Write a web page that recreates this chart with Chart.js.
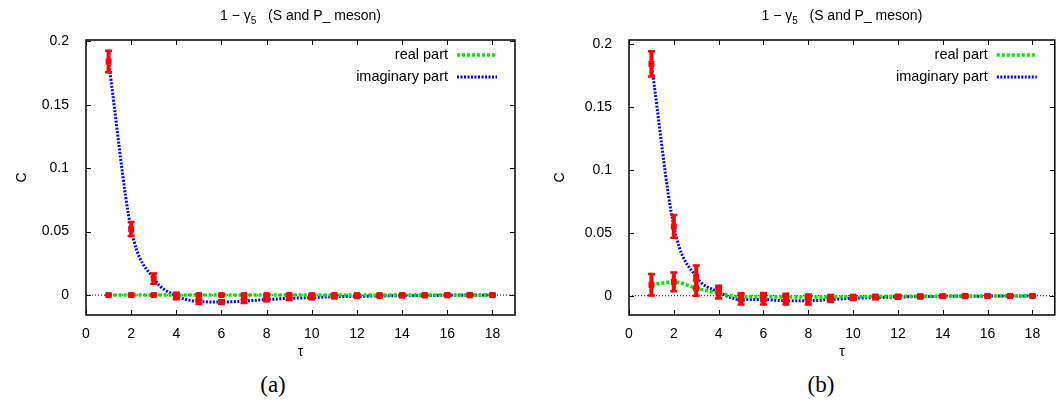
<!DOCTYPE html>
<html>
<head>
<meta charset="utf-8">
<script src="https://cdn.jsdelivr.net/npm/chart.js@4.4.0/dist/chart.umd.min.js"></script>
<style>
body { margin:0; background:#fff; width:1059px; height:405px; overflow:hidden; position:relative; }
.panel { position:absolute; top:0; height:365px; }
#pa { left:0; width:530px; }
#pb { left:530px; width:529px; }
.cap { position:absolute; top:372px; font-family:"Liberation Serif", "DejaVu Serif", serif; font-size:23px; transform:translateX(-50%); }
</style>
</head>
<body>
<div class="panel" id="pa"><canvas id="ca"></canvas></div>
<div class="panel" id="pb"><canvas id="cb"></canvas></div>
<div class="cap" style="left:273px">(a)</div>
<div class="cap" style="left:821px">(b)</div>
<script>
// time slices
var tValues = [1, 2, 3, 4, 5, 6, 7, 8, 9, 10, 11, 12, 13, 14, 15, 16, 17, 18];
var xTicks = [0, 2, 4, 6, 8, 10, 12, 14, 16, 18];
var yTicks = [0, 0.05, 0.1, 0.15, 0.2];

// panel (a)
var realA    = [0, 0, 0, 0, 0, 0, 0, 0, 0, 0, 0, 0, 0, 0, 0, 0, 0, 0];
var realErrA = [0.0004, 0.0004, 0.0004, 0.0004, 0.0004, 0.0004, 0.0004, 0.0004, 0.0004, 0.0004, 0.0003, 0.0003, 0.0003, 0.0003, 0.0003, 0.0003, 0.0003, 0.0003];
var imagA    = [0.184, 0.052, 0.013, -0.0007, -0.005, -0.0055, -0.0047, -0.0035, -0.0026, -0.002, -0.0013, -0.001, -0.0007, -0.0005, -0.0003, -0.0002, -0.0001, 0];
var imagErrA = [0.0085, 0.0055, 0.004, 0.0025, 0.002, 0.0015, 0.0015, 0.0012, 0.001, 0.001, 0.0008, 0.0006, 0.0005, 0.0004, 0.0004, 0.0003, 0.0003, 0.0003];

// panel (b)
var realB    = [0.0087, 0.011, 0.006, 0.002, -0.001, -0.0008, -0.001, -0.001, -0.001, -0.0008, -0.0006, -0.0005, -0.0004, -0.0003, -0.0002, -0.0002, -0.0001, -0.0001];
var realErrB = [0.0085, 0.0075, 0.006, 0.004, 0.003, 0.003, 0.0025, 0.002, 0.0015, 0.001, 0.0008, 0.0006, 0.0005, 0.0004, 0.0003, 0.0003, 0.0002, 0.0002];
var imagB    = [0.184, 0.055, 0.015, 0.003, -0.003, -0.003, -0.004, -0.004, -0.003, -0.002, -0.0015, -0.001, -0.0008, -0.0005, -0.0004, -0.0003, -0.0002, -0.0001];
var imagErrB = [0.010, 0.009, 0.009, 0.005, 0.004, 0.004, 0.003, 0.003, 0.002, 0.0012, 0.001, 0.0008, 0.0006, 0.0005, 0.0004, 0.0003, 0.0003, 0.0002];

var FONT = '"Liberation Sans", Arial, sans-serif';
var GREEN = '#00e600';
var BLUE = '#0000ff';
var RED = '#ff0000';

function pts(arr) {
    return tValues.map(function (t, i) { return { x: t, y: arr[i] }; });
}

var gnuFrame = {
    id: 'gnuFrame',
    beforeDatasetsDraw: function (chart) {
        var ctx = chart.ctx, a = chart.chartArea;
        var y0 = chart.scales.y.getPixelForValue(0);
        ctx.save();
        ctx.strokeStyle = '#000';
        ctx.lineWidth = 1;
        ctx.setLineDash([1, 2]);
        ctx.beginPath();
        ctx.moveTo(a.left, y0);
        ctx.lineTo(a.right, y0);
        ctx.stroke();
        ctx.restore();
    },
    afterDatasetsDraw: function (chart) {
        var ctx = chart.ctx, ys = chart.scales.y;
        ctx.save();
        ctx.strokeStyle = RED;
        chart.data.datasets.forEach(function (ds, i) {
            if (!ds.errors) return;
            var meta = chart.getDatasetMeta(i);
            meta.data.forEach(function (el, j) {
                var v = ds.data[j].y, e = ds.errors[j];
                var top = ys.getPixelForValue(v + e), bot = ys.getPixelForValue(v - e);
                ctx.lineWidth = 4;
                ctx.beginPath();
                ctx.moveTo(el.x, top); ctx.lineTo(el.x, bot);
                ctx.stroke();
                ctx.lineWidth = 2.5;
                ctx.beginPath();
                ctx.moveTo(el.x - 3.5, top); ctx.lineTo(el.x + 3.5, top);
                ctx.moveTo(el.x - 3.5, bot); ctx.lineTo(el.x + 3.5, bot);
                ctx.stroke();
            });
        });
        ctx.restore();
    },
    afterDraw: function (chart, args, opts) {
        var ctx = chart.ctx, a = chart.chartArea;
        var xs = chart.scales.x, ys = chart.scales.y;
        ctx.save();
        // box + inward ticks on all four sides
        ctx.strokeStyle = '#000';
        ctx.lineWidth = 1.5;
        ctx.strokeRect(a.left, a.top, a.width, a.height);
        ctx.lineWidth = 1;
        ctx.beginPath();
        xs.ticks.forEach(function (t) {
            var px = Math.round(xs.getPixelForValue(t.value)) + 0.5;
            ctx.moveTo(px, a.bottom); ctx.lineTo(px, a.bottom - 5);
            ctx.moveTo(px, a.top); ctx.lineTo(px, a.top + 5);
        });
        ys.ticks.forEach(function (t) {
            var py = Math.round(ys.getPixelForValue(t.value)) + 0.5;
            ctx.moveTo(a.left, py); ctx.lineTo(a.left + 5, py);
            ctx.moveTo(a.right, py); ctx.lineTo(a.right - 5, py);
        });
        ctx.stroke();

        // legend (text then sample, gnuplot style)
        var row = 0;
        chart.data.datasets.forEach(function (ds) {
            if (!ds.inLegend) return;
            var ly = a.top + 15 + row * 22;
            ctx.fillStyle = '#000';
            ctx.font = '14.5px ' + FONT;
            ctx.textAlign = 'right';
            ctx.textBaseline = 'middle';
            ctx.fillText(ds.label, a.right - 67, ly);
            ctx.strokeStyle = ds.borderColor;
            ctx.lineWidth = ds.borderWidth;
            ctx.setLineDash(ds.borderDash);
            ctx.beginPath();
            ctx.moveTo(a.right - 58, ly); ctx.lineTo(a.right - 18, ly);
            ctx.stroke();
            ctx.setLineDash([]);
            row++;
        });

        // title: 1 − γ5   (S and P_ meson)
        ctx.fillStyle = '#000';
        ctx.textBaseline = 'middle';
        ctx.textAlign = 'left';
        var cx = (a.left + a.right) / 2, ty = 16;
        ctx.font = '14px ' + FONT;
        var p1 = '1 \u2212 \u03b3', p3 = '   (S and P_ meson)';
        var w1 = ctx.measureText(p1).width, w3 = ctx.measureText(p3).width;
        ctx.font = '10px ' + FONT;
        var w2 = ctx.measureText('5').width;
        var x0 = cx - (w1 + w2 + w3) / 2;
        ctx.font = '14px ' + FONT;
        ctx.fillText(p1, x0, ty);
        ctx.fillText(p3, x0 + w1 + w2, ty);
        ctx.font = '10px ' + FONT;
        ctx.fillText('5', x0 + w1, ty + 5);

        // axis titles
        ctx.font = '14px ' + FONT;
        ctx.textAlign = 'center';
        ctx.fillText('\u03c4', cx, 352);
        ctx.translate(opts.yTitleX, (a.top + a.bottom) / 2);
        ctx.rotate(-Math.PI / 2);
        ctx.fillText('C', 0, 0);
        ctx.restore();
    }
};

function makeChart(id, real, realErr, imag, imagErr, yMin, yMax, axisW, padRight, yTitleX) {
    return new Chart(document.getElementById(id), {
        type: 'line',
        data: {
            datasets: [
                {
                    label: 'real part', data: pts(real), inLegend: true,
                    borderColor: GREEN, borderWidth: 3.5, borderDash: [3, 2],
                    pointRadius: 0, cubicInterpolationMode: 'monotone', fill: false
                },
                {
                    label: 'imaginary part', data: pts(imag), inLegend: true,
                    borderColor: BLUE, borderWidth: 3, borderDash: [2, 1.5],
                    pointRadius: 0, cubicInterpolationMode: 'monotone', fill: false
                },
                {
                    label: 'real pts', data: pts(real), errors: realErr, order: -1,
                    showLine: false, pointStyle: 'rect', pointRadius: 4.2,
                    pointBackgroundColor: RED, pointBorderWidth: 0
                },
                {
                    label: 'imag pts', data: pts(imag), errors: imagErr, order: -1,
                    showLine: false, pointStyle: 'rect', pointRadius: 4.2,
                    pointBackgroundColor: RED, pointBorderWidth: 0
                }
            ]
        },
        options: {
            responsive: true,
            maintainAspectRatio: false,
            animation: false,
            layout: { padding: { left: 0, right: padRight, top: 40, bottom: 0 } },
            plugins: {
                legend: { display: false },
                tooltip: { enabled: false },
                gnuFrame: { yTitleX: yTitleX }
            },
            scales: {
                x: {
                    type: 'linear', min: 0, max: 19,
                    afterBuildTicks: function (s) { s.ticks = xTicks.map(function (v) { return { value: v }; }); },
                    afterFit: function (s) { s.height = 50; },
                    grid: { display: false }, border: { display: false },
                    ticks: { color: '#000', padding: 3, maxRotation: 0, font: { family: FONT, size: 14 } }
                },
                y: {
                    min: yMin, max: yMax,
                    afterBuildTicks: function (s) { s.ticks = yTicks.map(function (v) { return { value: v }; }); },
                    afterFit: function (s) { s.width = axisW; },
                    grid: { display: false }, border: { display: false },
                    ticks: {
                        color: '#000', padding: 9, font: { family: FONT, size: 14 },
                        callback: function (v) { return String(parseFloat(v.toFixed(4))); }
                    }
                }
            }
        },
        plugins: [gnuFrame]
    });
}

makeChart('ca', realA, realErrA, imagA, imagErrA, -0.0157, 0.201, 86, 15, 22);
makeChart('cb', realB, realErrB, imagB, imagErrB, -0.0153, 0.203, 99, 1, 30);
</script>
</body>
</html>
